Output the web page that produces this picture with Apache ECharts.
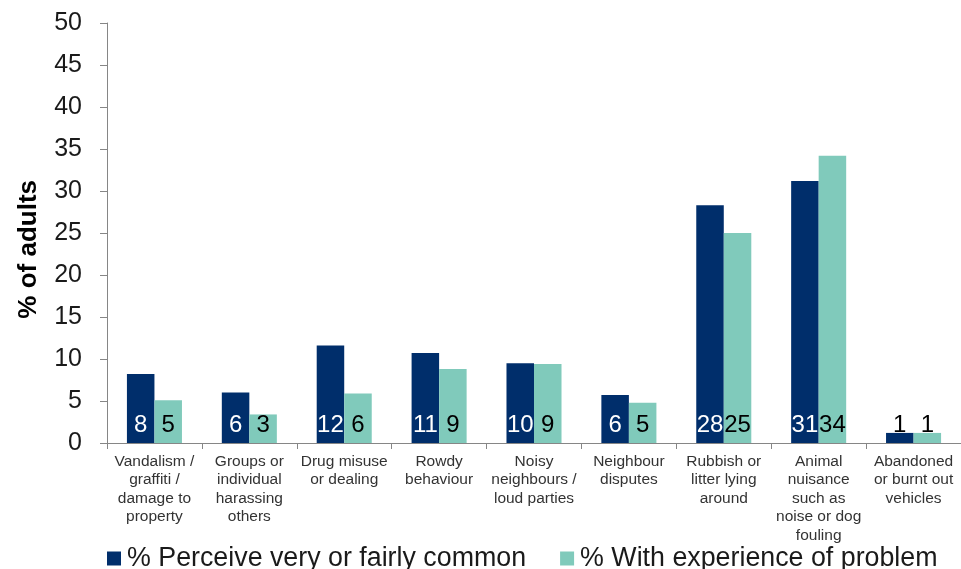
<!DOCTYPE html>
<html>
<head>
<meta charset="utf-8">
<title>Anti-social behaviour: perception and experience</title>
<script src="https://cdn.jsdelivr.net/npm/echarts@6/dist/echarts.min.js"></script>
<style>
  html, body { margin: 0; padding: 0; background: #ffffff; }
  #chart { width: 961px; height: 569px; }
</style>
</head>
<body>
<div id="chart"></div>
<script>
// Problem categories shown along the x axis
const categories = [
  'Vandalism /\ngraffiti /\ndamage to\nproperty',
  'Groups or\nindividual\nharassing\nothers',
  'Drug misuse\nor dealing',
  'Rowdy\nbehaviour',
  'Noisy\nneighbours /\nloud parties',
  'Neighbour\ndisputes',
  'Rubbish or\nlitter lying\naround',
  'Animal\nnuisance\nsuch as\nnoise or dog\nfouling',
  'Abandoned\nor burnt out\nvehicles'
];

// Series names
const seriesNames = ['% Perceive very or fairly common', '% With experience of problem'];

// % of adults perceiving each problem as very or fairly common
const perceiveValues = [8.2, 6.0, 11.6, 10.7, 9.5, 5.7, 28.3, 31.2, 1.2];

// % of adults with experience of each problem
const experienceValues = [5.1, 3.4, 5.9, 8.8, 9.4, 4.8, 25.0, 34.2, 1.2];

// Value axis ticks
const yMin = 0, yMax = 50, yStep = 5;

const NAVY = '#002e6b';
const TEAL = '#80cabb';
const FONT = '"Liberation Sans", Arial, sans-serif';

// Short bars carry their label above the bar, so it is drawn in black there
function buildData(values, insideColor) {
  return values.map(v => ({
    value: v,
    label: { color: v < 3 ? '#000000' : insideColor }
  }));
}

const labelBase = {
  show: true,
  position: 'insideBottom',
  distance: 6,
  fontFamily: FONT,
  fontSize: 24,
  formatter: p => String(Math.round(p.value))
};

const chart = echarts.init(document.getElementById('chart'), null, { renderer: 'canvas' });

chart.setOption({
  animation: false,
  backgroundColor: '#ffffff',
  textStyle: { fontFamily: FONT },
  grid: { left: 107, top: 23, width: 857, height: 420, containLabel: false },
  legend: {
    data: seriesNames,
    left: 102,
    top: 540,
    itemWidth: 14,
    itemHeight: 14,
    itemGap: 34,
    icon: 'rect',
    textStyle: { fontFamily: FONT, fontSize: 26.8, color: '#1a1a1a', padding: [0, 0, 0, 1] }
  },
  xAxis: {
    type: 'category',
    data: categories,
    axisLine: { show: true, lineStyle: { color: '#868686', width: 1 } },
    axisTick: { show: true, length: 6, lineStyle: { color: '#868686' } },
    axisLabel: {
      interval: 0,
      margin: 9,
      fontFamily: FONT,
      fontSize: 15.5,
      lineHeight: 18.5,
      color: '#333333'
    },
    splitLine: { show: false }
  },
  yAxis: {
    type: 'value',
    min: yMin,
    max: yMax,
    interval: yStep,
    axisLine: { show: true, lineStyle: { color: '#868686', width: 1 } },
    axisTick: { show: true, length: 7, lineStyle: { color: '#868686' } },
    axisLabel: { fontFamily: FONT, fontSize: 25, color: '#1a1a1a', margin: 25 },
    splitLine: { show: false }
  },
  graphic: [{
    type: 'text',
    left: 16,
    top: 180,
    rotation: Math.PI / 2,
    style: {
      text: '% of adults',
      fontFamily: FONT,
      fontSize: 26,
      fontWeight: 'bold',
      fill: '#000000'
    }
  }],
  series: [
    {
      name: seriesNames[0],
      type: 'bar',
      data: buildData(perceiveValues, '#ffffff'),
      itemStyle: { color: NAVY },
      barGap: '0%',
      barCategoryGap: '42%',
      label: Object.assign({}, labelBase)
    },
    {
      name: seriesNames[1],
      type: 'bar',
      data: buildData(experienceValues, '#000000'),
      itemStyle: { color: TEAL },
      barGap: '0%',
      barCategoryGap: '42%',
      label: Object.assign({}, labelBase)
    }
  ]
});
</script>
</body>
</html>
